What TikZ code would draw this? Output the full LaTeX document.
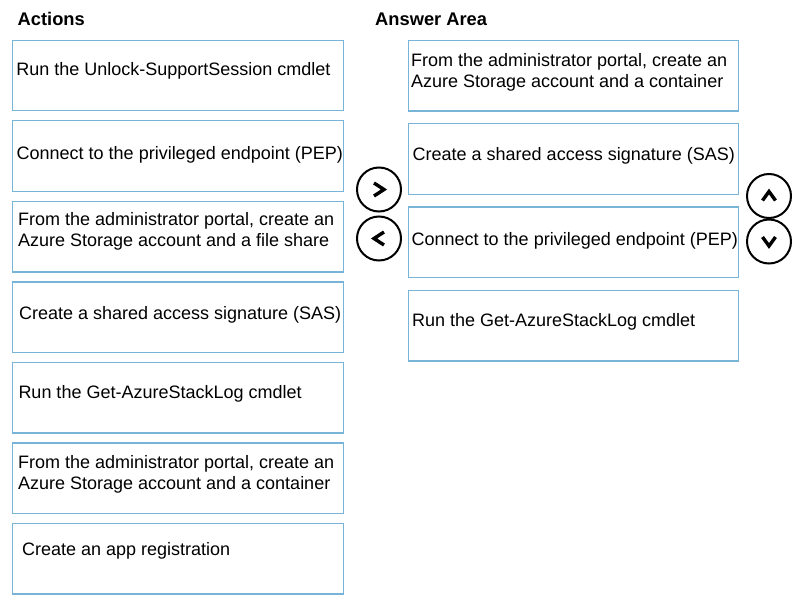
\documentclass[tikz,border=0pt]{standalone}
\usepackage{fontspec}
\setmainfont{Liberation Sans}
\usepackage{tikz}
\usetikzlibrary{positioning}
\definecolor{boxblue}{RGB}{120,180,215}

\begin{document}
\begin{tikzpicture}[
  x=1pt, y=-1pt,
  box/.style={draw=boxblue, line width=1.4pt, outer sep=0pt, inner sep=0pt, minimum height=70.5pt},
  lbox/.style={box, minimum width=331pt},
  rbox/.style={box, minimum width=330pt},
  txt/.style={anchor=base west, inner sep=0pt, align=left, font=\fontsize{18}{21}\selectfont},
  head/.style={anchor=base west, inner sep=0pt, font=\fontsize{18.3}{22}\selectfont\bfseries},
  circ/.style={draw, circle, line width=2pt, minimum size=44pt, inner sep=0pt},
  chev/.style={line width=3.4pt, line join=miter}
]
\useasboundingbox (0,0) rectangle (812,607);

\node[head] (hact) at (17.5,26) {Actions};
\node[head] (hans) at (375,26) {Answer Area};

% actions column
\node[lbox, anchor=north west] (a1) at (12.7,40.3) {};
\node[lbox, below=10pt of a1] (a2) {};
\node[lbox, below=10pt of a2] (a3) {};
\node[lbox, below=10pt of a3] (a4) {};
\node[lbox, below=10pt of a4] (a5) {};
\node[lbox, below=10pt of a5] (a6) {};
\node[lbox, below=10pt of a6] (a7) {};

% two-line texts: base is the second line
\node[txt] (ta1) at ([xshift=3.5pt, yshift=-35.7pt]a1.north west) {Run the Unlock-SupportSession cmdlet};
\node[txt] (ta2) at ([xshift=3.8pt, yshift=-39.2pt]a2.north west) {Connect to the privileged endpoint (PEP)};
\node[txt] (ta3) at ([xshift=5.2pt, yshift=-45.3pt]a3.north west) {From the administrator portal, create an\\Azure Storage account and a file share};
\node[txt] (ta4) at ([xshift=6.2pt, yshift=-37.5pt]a4.north west) {Create a shared access signature (SAS)};
\node[txt] (ta5) at ([xshift=5.6pt, yshift=-36pt]a5.north west) {Run the Get-AzureStackLog cmdlet};
\node[txt] (ta6) at ([xshift=5.2pt, yshift=-46.2pt]a6.north west) {From the administrator portal, create an\\Azure Storage account and a container};
\node[txt] (ta7) at ([xshift=9.2pt, yshift=-31.7pt]a7.north west) {Create an app registration};

% answer column
\node[rbox, anchor=north west] (b1) at (408.7,40.5) {};
\node[rbox, below=12.8pt of b1] (b2) {};
\node[rbox, below=12.8pt of b2] (b3) {};
\node[rbox, below=12.8pt of b3] (b4) {};

\node[txt] (tb1) at ([xshift=2.2pt, yshift=-46.8pt]b1.north west) {From the administrator portal, create an\\Azure Storage account and a container};
\node[txt] (tb2) at ([xshift=3.8pt, yshift=-37.2pt]b2.north west) {Create a shared access signature (SAS)};
\node[txt] (tb3) at ([xshift=2.8pt, yshift=-38.6pt]b3.north west) {Connect to the privileged endpoint (PEP)};
\node[txt] (tb4) at ([xshift=3.2pt, yshift=-36.3pt]b4.north west) {Run the Get-AzureStackLog cmdlet};

% move buttons
\node[circ] (mvright) at (379,189.5) {};
\node[circ] (mvleft) at (379,238.5) {};
\node[circ] (mvup) at (769,196) {};
\node[circ] (mvdown) at (769,241.5) {};

\draw[chev] ([shift={(-5,-6.5)}]mvright.center) -- ++(10,6.5) -- ++(-10,6.5);
\draw[chev] ([shift={(5,-6.5)}]mvleft.center) -- ++(-10,6.5) -- ++(10,6.5);
\draw[chev] ([shift={(-6.5,4.5)}]mvup.center) -- ++(6.5,-9) -- ++(6.5,9);
\draw[chev] ([shift={(-6.5,-4.5)}]mvdown.center) -- ++(6.5,9) -- ++(6.5,-9);
\end{tikzpicture}
\end{document}
